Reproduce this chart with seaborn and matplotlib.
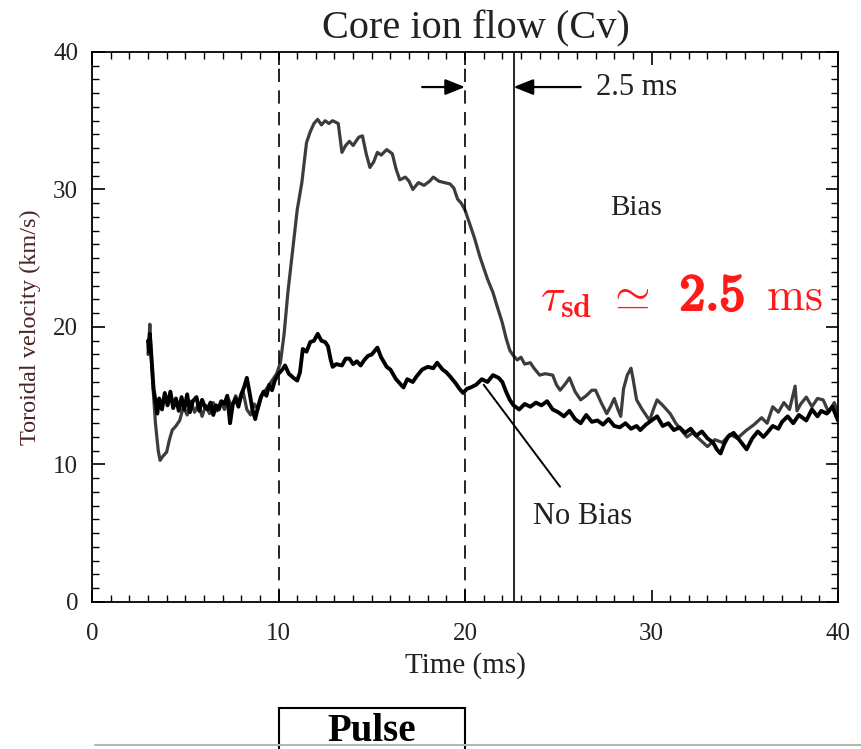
import matplotlib
matplotlib.use("Agg")
import matplotlib.pyplot as plt
import matplotlib.transforms as mtransforms
import matplotlib.patheffects as pe
from matplotlib.patches import Rectangle
from matplotlib.lines import Line2D
from matplotlib.ticker import MultipleLocator
import seaborn as sns
import pandas as pd

# ---------------- data ----------------
bias_t = [3.0, 3.05, 3.1, 3.15, 3.25, 3.4, 3.55, 3.65, 3.8, 4.0, 4.15, 4.3, 4.5, 4.7, 4.9,
          5.1, 5.3, 5.5, 5.7, 5.9, 6.1, 6.3, 6.5, 6.7, 6.9, 7.1, 7.3, 7.5, 7.7, 7.9, 8.1,
          8.3, 8.5, 8.7, 8.9, 9.1, 9.3, 9.5, 9.7, 9.9, 10.1, 10.3, 10.5, 10.8, 11.0, 11.25,
          11.5, 11.7, 11.9, 12.1, 12.3, 12.5, 12.7, 12.9, 13.2, 13.4, 13.6, 13.8, 14.0,
          14.3, 14.5, 14.7, 14.9, 15.1, 15.3, 15.5, 15.8, 16.1, 16.3, 16.5, 16.8, 17.0,
          17.2, 17.5, 17.8, 18.1, 18.3, 18.6, 18.9, 19.2, 19.4, 19.6, 19.8, 20.0, 20.3,
          20.5, 20.8, 21.0, 21.2, 21.5, 21.7, 22.0, 22.2, 22.4, 22.6, 22.8, 23.0, 23.2,
          23.5, 23.7, 24.0, 24.3, 24.7, 24.9, 25.1, 25.4, 25.6, 25.9, 26.2, 26.5, 26.8,
          27.0, 27.3, 27.6, 27.8, 28.0, 28.2, 28.35, 28.5, 28.7, 28.9, 29.0, 29.2, 29.5,
          29.9, 30.1, 30.3, 30.6, 31.0, 31.3, 31.6, 31.9, 32.2, 32.6, 33.0, 33.4, 33.8,
          34.2, 34.6, 35.1, 35.5, 35.9, 36.2, 36.5, 36.8, 37.1, 37.4, 37.7, 37.8, 38.0,
          38.3, 38.6, 38.9, 39.2, 39.5, 39.8, 40.0]
bias_v = [18.0, 19.0, 20.2, 18.5, 16.0, 13.0, 11.0, 10.3, 10.6, 10.9, 11.8, 12.5, 12.8, 13.2,
          14.2, 13.6, 14.6, 13.8, 14.4, 13.5, 14.3, 13.7, 14.5, 13.9, 14.6, 14.0, 14.8,
          14.2, 15.0, 14.5, 15.3, 14.0, 13.6, 14.4, 14.0, 15.0, 15.4, 15.8, 16.2, 16.6,
          17.4, 19.5, 22.5, 26.1, 28.5, 30.5, 33.4, 34.2, 34.8, 35.1, 34.7, 35.0, 34.8,
          35.0, 34.8, 32.7, 33.2, 33.5, 33.2, 33.8, 33.9, 32.6, 31.6, 32.0, 32.7, 32.5,
          32.9, 32.6, 31.5, 30.7, 30.9, 30.6, 30.0, 30.5, 30.3, 30.6, 30.9, 30.6, 30.5,
          30.4, 30.1, 29.3, 29.0, 28.5, 27.3, 26.5, 25.1, 24.3, 23.5, 22.5, 21.6, 20.3,
          19.2, 18.3, 17.9, 17.6, 17.8, 17.3, 17.4, 17.0, 16.5, 16.6, 16.5, 15.8, 15.4,
          15.9, 16.3, 15.3, 14.7, 15.0, 15.4, 15.4, 14.5, 13.7, 14.2, 14.8, 14.0, 13.5,
          15.5, 16.5, 17.0, 16.3, 14.7, 14.0, 13.2, 14.0, 14.7, 14.3, 13.7, 13.0, 12.5,
          12.0, 12.3, 11.8, 11.3, 11.8, 11.6, 12.2, 11.9, 12.5, 12.9, 13.4, 13.0, 14.2,
          13.8, 14.5, 14.0, 15.7, 13.9, 14.4, 14.9, 14.2, 14.8, 14.7, 13.8, 14.5, 13.8]

nobias_t = [3.0, 3.05, 3.1, 3.2, 3.3, 3.4, 3.5, 3.6, 3.75, 3.9, 4.05, 4.2, 4.35, 4.5, 4.65,
            4.8, 4.95, 5.1, 5.25, 5.4, 5.6, 5.75, 5.9, 6.05, 6.2, 6.35, 6.5, 6.65, 6.8,
            6.95, 7.1, 7.25, 7.4, 7.55, 7.7, 7.85, 8.0, 8.15, 8.3, 8.45, 8.6, 8.75, 8.9,
            9.05, 9.2, 9.35, 9.5, 9.65, 9.8, 10.0, 10.2, 10.35, 10.55, 10.8, 11.0, 11.15,
            11.3, 11.5, 11.7, 11.9, 12.1, 12.3, 12.5, 12.65, 12.8, 12.9, 13.1, 13.4, 13.6,
            13.8, 14.0, 14.2, 14.4, 14.6, 14.8, 15.0, 15.3, 15.5, 15.8, 16.0, 16.3, 16.5,
            16.7, 16.9, 17.2, 17.4, 17.7, 18.0, 18.3, 18.5, 18.8, 19.0, 19.2, 19.5, 19.7,
            19.9, 20.1, 20.3, 20.6, 20.9, 21.2, 21.5, 21.8, 22.0, 22.2, 22.4, 22.6, 22.9,
            23.2, 23.5, 23.8, 24.1, 24.4, 24.7, 25.0, 25.3, 25.6, 25.9, 26.2, 26.5, 26.8,
            27.1, 27.4, 27.7, 28.0, 28.3, 28.6, 28.9, 29.2, 29.4, 29.7, 30.0, 30.3, 30.6,
            30.9, 31.2, 31.5, 31.8, 32.1, 32.4, 32.7, 33.0, 33.3, 33.5, 33.7, 33.9, 34.1,
            34.4, 34.7, 35.1, 35.4, 35.7, 36.0, 36.2, 36.5, 36.8, 37.0, 37.3, 37.6, 37.9,
            38.3, 38.6, 38.9, 39.1, 39.4, 39.7, 40.0]
nobias_v = [19.0, 18.2, 19.5, 17.5, 15.5, 14.6, 13.7, 14.8, 14.0, 15.2, 14.3, 15.3, 14.1,
            14.8, 13.9, 14.9, 14.0, 15.1, 13.8, 14.6, 14.9, 13.9, 14.7, 14.2, 14.0, 14.5,
            13.6, 14.3, 14.0, 14.6, 14.4, 15.0, 13.0, 14.4, 14.8, 14.2, 15.1, 15.6, 16.3,
            15.2, 14.0, 13.3, 14.2, 14.9, 15.3, 15.0, 15.8, 15.4, 16.1, 16.6, 16.9, 17.2,
            16.6, 16.3, 16.1, 16.7, 18.4, 18.2, 18.9, 19.0, 19.5, 19.0, 18.9, 18.6, 17.6,
            17.1, 17.3, 17.2, 17.7, 17.7, 17.3, 17.5, 17.2, 17.6, 17.9, 18.0, 18.5, 17.8,
            17.1, 16.9, 16.2, 15.9, 15.6, 16.2, 16.0, 16.4, 16.9, 17.1, 17.0, 17.4, 16.9,
            16.7, 16.4, 15.9, 15.5, 15.2, 15.5, 15.6, 15.8, 16.2, 16.0, 16.5, 16.3, 16.0,
            15.3, 14.7, 14.3, 14.0, 14.4, 14.2, 14.5, 14.3, 14.6, 14.0, 13.8, 13.5, 13.9,
            13.3, 13.0, 13.6, 13.1, 13.2, 12.9, 13.3, 12.8, 12.7, 13.0, 12.6, 12.8, 12.5,
            12.9, 13.2, 13.5, 12.8, 13.0, 12.5, 12.7, 12.3, 12.6, 12.1, 12.4, 11.9, 11.6,
            11.1, 10.8, 11.5, 12.0, 12.3, 11.8, 11.1, 11.9, 12.4, 12.0, 12.3, 12.8, 12.6,
            13.1, 13.5, 13.0, 13.6, 13.2, 14.0, 13.5, 13.9, 13.7, 14.2, 13.2]

x_ticks = [0, 10, 20, 30, 40]
y_ticks = [0, 10, 20, 30, 40]
pulse_start, pulse_end, decay_end = 10, 20, 22.6

# ---------------- figure ----------------
sns.set_theme(style="ticks")
plt.rcParams["font.family"] = ["Liberation Serif", "DejaVu Serif"]
plt.rcParams["mathtext.fontset"] = "cm"

fig = plt.figure(figsize=(8.61, 7.49), dpi=100)
ax = fig.add_axes([0.1069, 0.1963, 0.8664, 0.7343])

df_b = pd.DataFrame({"t": bias_t, "v": bias_v})
df_n = pd.DataFrame({"t": nobias_t, "v": nobias_v})
sns.lineplot(data=df_b, x="t", y="v", ax=ax, color="#3c3c3c", lw=2.3,
             sort=False, estimator=None)
sns.lineplot(data=df_n, x="t", y="v", ax=ax, color="black", lw=2.8,
             sort=False, estimator=None)

ax.set_xlim(0, 40)
ax.set_ylim(0, 40)
ax.set_xticks(x_ticks)
ax.set_yticks(y_ticks)
ax.xaxis.set_minor_locator(MultipleLocator(1))
ax.yaxis.set_minor_locator(MultipleLocator(1))
ax.tick_params(which="both", direction="in", top=True, right=True, color="black",
               labelsize=18, labelcolor="#222222")
ax.tick_params(which="major", length=9, width=1.2)
ax.tick_params(which="minor", length=5, width=1.0)
ax.tick_params(axis="x", which="major", pad=15)
ax.tick_params(axis="y", which="major", pad=10)
for s in ax.spines.values():
    s.set_color("black")
    s.set_linewidth(1.3)

ax.set_xlabel("Time (ms)", fontsize=21, labelpad=5, color="#222222")
ax.set_ylabel("Toroidal velocity (km/s)", fontsize=17.5, labelpad=9, color="#4a2424")
fig.text(0.553, 0.962, "Core ion flow (Cv)", ha="center", va="center", fontsize=29,
         color="#222222")

# vertical markers
ax.axvline(pulse_start, color="black", lw=1.2, ls=(0, (8, 5)))
ax.axvline(pulse_end, color="black", lw=1.2, ls=(0, (8, 5)))
ax.axvline(decay_end, color="black", lw=1.2)

# arrows for 2.5 ms
ya = 37.45
ax.annotate("", xy=(pulse_end, ya), xytext=(17.7, ya),
            arrowprops=dict(arrowstyle="-|>,head_length=1.0,head_width=0.4",
                            lw=1.6, color="black", shrinkA=0, shrinkB=0))
ax.annotate("", xy=(decay_end, ya), xytext=(26.2, ya),
            arrowprops=dict(arrowstyle="-|>,head_length=1.0,head_width=0.4",
                            lw=1.6, color="black", shrinkA=0, shrinkB=0))
ax.text(27.0, ya, "2.5 ms", ha="left", va="center", fontsize=22, color="#222222")

ax.text(29.2, 28.65, "Bias", ha="center", va="center", fontsize=21, color="#222222")
ax.annotate("No Bias", xy=(21.0, 15.8), xytext=(26.3, 6.2), ha="center", va="center",
            fontsize=22, color="#222222",
            arrowprops=dict(arrowstyle="-", lw=1.4, color="black",
                            shrinkA=11, shrinkB=0))

# tau_sd label (red), split so that "2.5" can be heavy bold
red = "#ff1a1a"
yb = 21.24
ax.text(24.0, yb, r"$\tau_{\mathbf{sd}}\ \simeq$", ha="left", va="baseline",
        fontsize=33, color=red)
ax.text(31.5, yb, r"$\mathbf{2.5}$", ha="left", va="baseline", fontsize=37, color=red,
        path_effects=[pe.withStroke(linewidth=1.8, foreground=red)])
ax.text(36.15, yb, r"$\mathrm{ms}$", ha="left", va="baseline", fontsize=33, color=red)

# Pulse box under the axes (data x, figure y)
trans = mtransforms.blended_transform_factory(ax.transData, fig.transFigure)
fig.add_artist(Line2D([0.11, 1.0], [0.0053, 0.0053], transform=fig.transFigure,
                      color="#b5b5b5", lw=1.5))
rect = Rectangle((pulse_start, -0.02), pulse_end - pulse_start, 0.0747,
                 transform=trans, fill=False, edgecolor="black", lw=1.5, clip_on=False)
fig.add_artist(rect)
fig.text(15.0, 0.024, "Pulse", transform=trans, ha="center", va="center",
         fontsize=28, fontweight="bold", color="black")

fig.savefig("out.png", dpi=100)
